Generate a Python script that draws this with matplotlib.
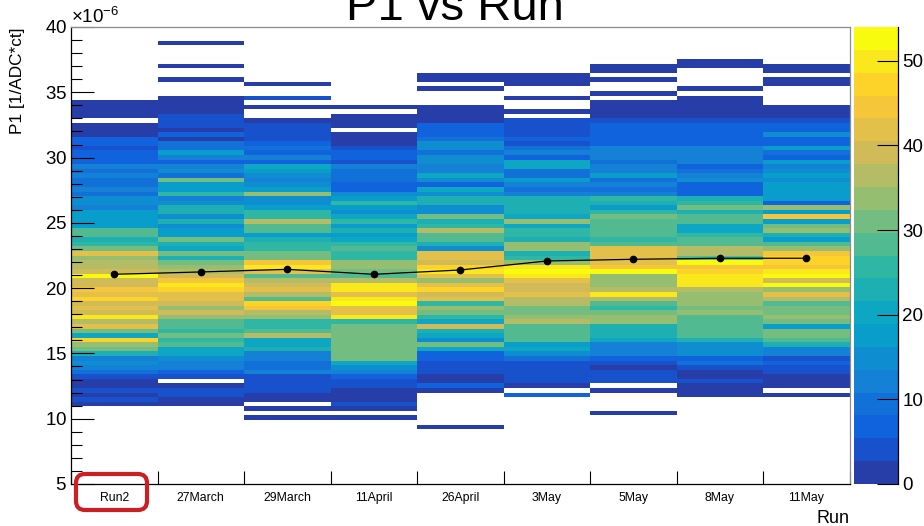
import numpy as np
import matplotlib
matplotlib.use("Agg")
import matplotlib.pyplot as plt
from matplotlib.colors import ListedColormap, BoundaryNorm
from matplotlib.patches import FancyBboxPatch
from matplotlib.transforms import IdentityTransform
from matplotlib.ticker import MultipleLocator, FixedLocator, ScalarFormatter, NullFormatter

plt.rcParams["font.family"] = ["Liberation Sans", "DejaVu Sans"]
plt.rcParams["mathtext.fontset"] = "custom"
plt.rcParams["mathtext.rm"] = "Liberation Sans"
plt.rcParams["mathtext.default"] = "regular"

runs = ["Run2", "27March", "29March", "11April", "26April",
        "3May", "5May", "8May", "11May"]

# P1 binning: 100 bins between 5e-6 and 40e-6
p1_low, p1_high, n_bins = 5e-6, 40e-6, 100

# entries per P1 bin for each run, starting at first_bin (lowest bin first)
first_bin = [17, 17, 14, 14, 12, 19, 15, 19, 19]

run2 = [1, 4, 1, 4, 1, 1, 4, 9, 12, 15,
        12, 23, 31, 34, 47, 20, 31, 42, 36, 50,
        39, 42, 39, 47, 42, 44, 39, 39, 54, 39,
        36, 36, 34, 42, 31, 25, 23, 28, 28, 17,
        17, 17, 17, 12, 15, 15, 9, 12, 9, 9,
        12, 9, 12, 7, 7, 7, 4, 7, 7, 1,
        1, 1, 0, 1, 2, 2, 1]
march27 = [1, 1, 4, 4, 1, 0, 4, 7, 12, 12,
           15, 20, 20, 28, 25, 31, 25, 28, 28, 34,
           39, 34, 39, 42, 42, 47, 50, 44, 39, 36,
           34, 31, 23, 31, 20, 23, 31, 17, 17, 15,
           23, 15, 23, 23, 15, 12, 25, 17, 17, 31,
           9, 15, 12, 7, 12, 17, 9, 9, 1, 7,
           1, 4, 4, 4, 1, 2, 1, 1, 0, 0,
           0, 1, 0, 0, 1, 0, 0, 0, 0, 1]
march29 = [1, 0, 1, 0, 1, 2, 4, 4, 4, 4,
           12, 9, 9, 12, 12, 23, 20, 20, 36, 28,
           25, 25, 34, 36, 44, 47, 28, 36, 42, 39,
           36, 28, 42, 50, 44, 31, 31, 25, 25, 23,
           17, 28, 28, 36, 25, 25, 17, 15, 15, 34,
           17, 15, 12, 15, 17, 20, 7, 12, 7, 9,
           7, 4, 4, 4, 4, 1, 0, 0, 1, 0,
           4, 0, 0, 1]
april11 = [1, 0, 1, 4, 1, 1, 2, 4, 4, 7,
           12, 15, 20, 31, 30, 31, 32, 31, 30, 31,
           31, 25, 50, 42, 42, 53, 50, 42, 50, 50,
           36, 28, 31, 34, 34, 25, 25, 28, 25, 20,
           17, 23, 17, 25, 20, 15, 17, 25, 17, 15,
           7, 7, 9, 9, 9, 12, 4, 7, 7, 4,
           1, 2, 1, 0, 1, 2, 1, 0, 1]
april26 = [1, 0, 0, 0, 0, 0, 0, 0, 1, 7,
           1, 2, 4, 4, 4, 7, 7, 20, 31, 15,
           20, 23, 39, 20, 25, 31, 34, 25, 42, 39,
           47, 42, 34, 42, 50, 47, 39, 42, 42, 15,
           23, 28, 28, 36, 25, 23, 31, 15, 15, 23,
           23, 15, 20, 7, 15, 20, 12, 12, 15, 15,
           9, 15, 15, 9, 7, 7, 7, 1, 1, 2,
           1, 0, 0, 0, 1, 0, 1, 1]
may3 = [7, 0, 1, 4, 4, 4, 4, 4, 9, 15,
        20, 17, 28, 28, 28, 28, 36, 34, 31, 31,
        36, 36, 42, 39, 39, 42, 50, 53, 50, 34,
        25, 23, 34, 34, 23, 25, 25, 20, 34, 20,
        23, 23, 23, 23, 12, 9, 12, 17, 9, 9,
        20, 20, 7, 12, 9, 4, 7, 4, 4, 4,
        4, 0, 1, 0, 0, 1, 0, 0, 1, 2,
        1]
may5 = [1, 0, 0, 0, 0, 1, 0, 4, 4, 4,
        1, 4, 7, 12, 12, 12, 20, 23, 23, 23,
        34, 34, 31, 25, 28, 36, 50, 36, 34, 34,
        34, 53, 44, 42, 42, 42, 42, 28, 25, 28,
        28, 28, 28, 31, 25, 17, 23, 25, 12, 9,
        12, 9, 17, 12, 12, 9, 12, 12, 12, 7,
        7, 7, 7, 7, 4, 1, 2, 1, 1, 0,
        1, 0, 0, 1, 0, 1, 1]
may8 = [1, 1, 2, 4, 1, 1, 4, 9, 7, 15,
        15, 15, 23, 28, 28, 28, 28, 28, 34, 31,
        34, 34, 34, 36, 50, 50, 50, 47, 44, 52,
        28, 36, 36, 28, 28, 25, 20, 20, 28, 28,
        23, 31, 25, 23, 7, 7, 7, 15, 12, 9,
        7, 12, 12, 12, 12, 7, 7, 7, 7, 7,
        4, 1, 1, 2, 1, 1, 0, 1, 0, 0,
        0, 0, 1, 1]
may11 = [1, 0, 1, 1, 2, 4, 4, 7, 4, 12,
         12, 23, 28, 31, 31, 17, 31, 34, 31, 31,
         28, 36, 42, 34, 53, 39, 53, 50, 44, 47,
         47, 44, 34, 28, 17, 23, 34, 31, 17, 44,
         17, 34, 7, 17, 17, 17, 17, 15, 17, 15,
         12, 17, 7, 9, 17, 7, 7, 15, 7, 7,
         4, 1, 2, 1, 0, 0, 0, 0, 1, 1,
         0, 1, 1]

# profile mean of P1 per run
p1_mean = [21.06e-6, 21.24e-6, 21.44e-6, 21.06e-6, 21.39e-6,
           22.08e-6, 22.21e-6, 22.29e-6, 22.29e-6]

columns = [run2, march27, march29, april11, april26, may3, may5, may8, may11]
counts = np.zeros((n_bins, len(runs)))
for i, (start, col) in enumerate(zip(first_bin, columns)):
    counts[start:start + len(col), i] = col


def bird_palette(n_levels):
    # ROOT kBird gradient, sampled the way COLZ picks contour colours
    stops = np.linspace(0, 1, 9)
    red = [0.2082, 0.0592, 0.0780, 0.0232, 0.1802, 0.5301, 0.8186, 0.9956, 0.9764]
    green = [0.1664, 0.3599, 0.5041, 0.6419, 0.7178, 0.7492, 0.7328, 0.7862, 0.9832]
    blue = [0.5293, 0.8684, 0.8385, 0.7914, 0.6425, 0.4662, 0.3499, 0.1968, 0.0539]
    idx = np.clip(((np.arange(n_levels) + 0.99) * 255 / n_levels).astype(int), 0, 254)
    frac = idx / 254.0
    return np.column_stack([np.interp(frac, stops, red),
                            np.interp(frac, stops, green),
                            np.interp(frac, stops, blue)])


n_levels = 20
zmax = counts.max()
cmap = ListedColormap(bird_palette(n_levels))
norm = BoundaryNorm(np.linspace(0, zmax, n_levels + 1), n_levels, clip=True)

W, H = 924, 526
fig = plt.figure(figsize=(W / 100, H / 100), dpi=100)
ax = fig.add_axes([71 / W, (H - 484) / H, (849.5 - 71) / W, (484 - 27) / H])
cax = fig.add_axes([854 / W, (H - 484) / H, 44 / W, (484 - 27) / H])

x_edges = np.arange(len(runs) + 1)
y_edges = np.linspace(p1_low, p1_high, n_bins + 1)
mesh = ax.pcolormesh(x_edges, y_edges, np.ma.masked_equal(counts, 0),
                     cmap=cmap, norm=norm, linewidth=0, antialiased=False)

centers = np.arange(len(runs)) + 0.5
ax.plot(centers, p1_mean, color="black", lw=0.9, marker="o", ms=4.5, zorder=3)

ax.set_xlim(0, len(runs))
ax.set_ylim(p1_low, p1_high)

# y axis: ROOT-like inward ticks with a x10^-6 exponent
fmt = ScalarFormatter(useMathText=True)
fmt.set_powerlimits((-6, -6))
ax.yaxis.set_major_formatter(fmt)
ax.yaxis.set_major_locator(MultipleLocator(5e-6))
ax.yaxis.set_minor_locator(MultipleLocator(1e-6))
ax.tick_params(axis="y", which="major", direction="in", length=16.5, width=0.8,
               labelsize=13.5, pad=3, right=False)
ax.tick_params(axis="y", which="minor", direction="in", length=8, width=0.8, right=False)
ax.yaxis.get_offset_text().set_fontsize(13.5)

# x axis: ticks on bin edges, run names in the middle of each bin
ax.xaxis.set_major_locator(FixedLocator(x_edges))
ax.xaxis.set_major_formatter(NullFormatter())
ax.xaxis.set_minor_locator(FixedLocator(centers))
ax.set_xticks(centers, runs, minor=True)
ax.tick_params(axis="x", which="major", direction="in", length=9.5, width=0.8, top=False)
ax.tick_params(axis="x", which="minor", length=0, labelsize=8.8, pad=6, top=False)

for side in ["left", "bottom"]:
    ax.spines[side].set_color("black")
    ax.spines[side].set_linewidth(0.9)
for side in ["top", "right"]:
    ax.spines[side].set_color("#8c8c8c")
    ax.spines[side].set_linewidth(0.9)

cb = fig.colorbar(mesh, cax=cax, ticks=[0, 10, 20, 30, 40, 50])
cb.outline.set_visible(False)
cax.plot([1, 1], [0, 1], transform=cax.transAxes, color="black", lw=0.9, clip_on=False)
cax.tick_params(direction="in", length=15, width=0.8, labelsize=13.5, pad=3)
cax.minorticks_off()

fig.text(18 / W, 1 - 27 / H, "P1 [1/ADC*ct]", rotation=90, ha="center", va="top",
         fontsize=12.4)
fig.text(849 / W, 3 / H, "Run", ha="right", va="baseline", fontsize=13)
fig.text(455 / W, (H - 20) / H, "P1 vs Run", ha="center", va="baseline", fontsize=34)

# highlight around the first run label
box = FancyBboxPatch((76, 16), 71, 36, boxstyle="round,pad=0,rounding_size=9",
                     transform=IdentityTransform(), fill=False,
                     edgecolor="#cc1f24", linewidth=3.0)
fig.add_artist(box)

fig.savefig("out.png", dpi=100)
